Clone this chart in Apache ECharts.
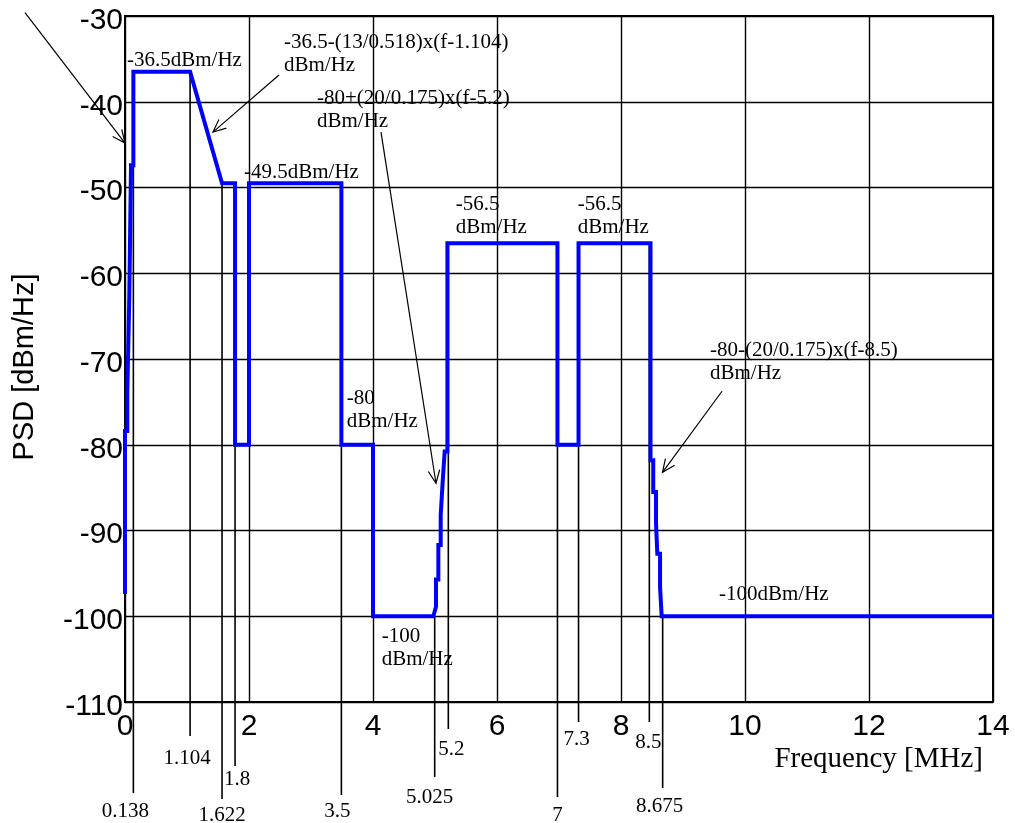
<!DOCTYPE html>
<html>
<head>
<meta charset="utf-8">
<script src="https://cdn.jsdelivr.net/npm/echarts@6/dist/echarts.min.js"></script>
<style>
html,body{margin:0;padding:0;background:#fff;}
#chart{width:1015px;height:823px;}
</style>
</head>
<body>
<div id="chart"></div>
<script>
// ---- data ----
const psdFreq = [0, 0, 0.037, 0.037, 0.069, 0.069, 0.097, 0.097, 0.135, 0.135,
  1.05, 1.565, 1.775, 1.775, 2.0, 2.0, 3.49, 3.49, 4.0, 4.0,
  4.973, 5.016, 5.016, 5.054, 5.054, 5.092, 5.092, 5.124, 5.124, 5.156,
  5.156, 5.2, 5.2, 6.975, 6.975, 7.315, 7.315, 8.476, 8.476, 8.52,
  8.52, 8.565, 8.565, 8.586, 8.586, 8.63, 8.63, 8.656, 8.656, 14];
const psdValue = [-97.4, -78.4, -78.4, -73.9, -73.9, -62.9, -62.9, -47.4, -47.4, -36.5,
  -36.5, -49.5, -49.5, -80, -80, -49.5, -49.5, -80, -80, -100,
  -100, -98.9, -95.7, -95.7, -91.7, -91.7, -88.2, -88.2, -84.3, -84.3,
  -80.8, -80.8, -56.5, -56.5, -80, -80, -56.5, -56.5, -81.8, -81.8,
  -85.5, -85.5, -89.2, -89.2, -92.7, -92.7, -96.6, -96.6, -100, -100];

const markerFreq = [0.135, 1.05, 1.565, 1.775, 3.49, 4.995, 5.215, 6.975, 7.315, 8.457, 8.672];
const markerTop = [-36.5, -36.5, -49.5, -49.5, -49.5, -100, -56.5, -56.5, -56.5, -56.5, -100];
const markerLabels = ['0.138', '1.104', '1.622', '1.8', '3.5', '5.025', '5.2', '7', '7.3', '8.5', '8.675'];

const xTicks = {min: 0, max: 14, interval: 2};
const yTicks = {min: -110, max: -30, interval: 10};

const noteTexts = ['-36.5dBm/Hz', '-36.5-(13/0.518)x(f-1.104)\ndBm/Hz', '-80+(20/0.175)x(f-5.2)\ndBm/Hz',
  '-49.5dBm/Hz', '-56.5\ndBm/Hz', '-56.5\ndBm/Hz', '-80\ndBm/Hz', '-100\ndBm/Hz',
  '-80-(20/0.175)x(f-8.5)\ndBm/Hz', '-100dBm/Hz'];
const noteFreq = [0.032, 2.565, 3.097, 1.919, 5.334, 7.302, 3.576, 4.140, 9.435, 9.581];
const notePsd = [-33.79, -31.75, -38.23, -46.86, -50.65, -50.65, -73.29, -101.0, -67.63, -96.10];

const arrowFrom = [[-1.613, -29.61], [2.484, -36.88], [4.129, -43.54], [9.629, -73.76]];
const arrowTo = [[0, -44.82], [1.419, -43.54], [5.016, -84.49], [8.669, -83.21]];

// ---- layout (pixels) ----
const markerDrop = [91, 34, 97, 64, 93, 75, 27, 95, 20, 20, 86];
const markerLabelDy = [109, 56, 113, 77, 109, 95, 47, 113, 37, 40, 104];
const markerLabelDx = [-8, -3, 0, 2, -4, -5, 3, 0, -2, -1, -3];

const SERIF = '"Liberation Serif", "Times New Roman", serif';
const SANS = '"Liberation Sans", Arial, sans-serif';

const chart = echarts.init(document.getElementById('chart'));

const option = {
  animation: false,
  backgroundColor: '#fff',
  grid: {left: 125, top: 16, right: 22, bottom: 121, show: true, borderColor: '#000', borderWidth: 2, backgroundColor: 'transparent'},
  xAxis: {
    type: 'value', min: xTicks.min, max: xTicks.max, interval: xTicks.interval,
    axisLine: {show: true, lineStyle: {color: '#000', width: 2}},
    axisTick: {show: false},
    splitLine: {show: true, lineStyle: {color: '#000', width: 1.4}},
    axisLabel: {color: '#000', fontSize: 30, fontFamily: SANS, margin: 10}
  },
  yAxis: {
    type: 'value', min: yTicks.min, max: yTicks.max, interval: yTicks.interval,
    axisLine: {show: true, lineStyle: {color: '#000', width: 2}},
    axisTick: {show: false},
    splitLine: {show: true, lineStyle: {color: '#000', width: 1.4}},
    axisLabel: {color: '#000', fontSize: 30, fontFamily: SANS, margin: 2, verticalAlign: 'top', lineHeight: 9}
  },
  graphic: [
    {type: 'text', x: 983, y: 759, style: {text: 'Frequency [MHz]', fill: '#000', fontSize: 29, fontFamily: SERIF, align: 'right', verticalAlign: 'middle'}},
    {type: 'text', x: 25, y: 367, rotation: Math.PI / 2, style: {text: 'PSD [dBm/Hz]', fill: '#000', fontSize: 29, fontFamily: SANS, align: 'center', verticalAlign: 'middle'}}
  ],
  series: [
    {
      type: 'custom', z: 3, clip: false, silent: true,
      data: markerFreq.map((f, i) => [f, markerTop[i], i]),
      renderItem: function (params, api) {
        const i = api.value(2);
        const top = api.coord([api.value(0), api.value(1)]);
        const bot = api.coord([api.value(0), yTicks.min]);
        return {
          type: 'group',
          children: [
            {type: 'line', shape: {x1: top[0], y1: top[1], x2: bot[0], y2: bot[1] + markerDrop[i]}, style: {stroke: '#000', lineWidth: 1.6}},
            {type: 'text', x: bot[0] + markerLabelDx[i], y: bot[1] + markerLabelDy[i],
              style: {text: markerLabels[i], fill: '#000', fontSize: 21, fontFamily: SERIF, align: 'center', verticalAlign: 'middle'}}
          ]
        };
      }
    },
    {
      type: 'line', z: 5, silent: true, showSymbol: false, symbol: 'none',
      data: psdFreq.map((f, i) => [f, psdValue[i]]),
      lineStyle: {color: '#0000ff', width: 4, join: 'miter'}
    },
    {
      type: 'custom', z: 6, clip: false, silent: true,
      data: arrowFrom.map((p, i) => [p[0], p[1], arrowTo[i][0], arrowTo[i][1]]),
      encode: {x: [0, 2], y: [1, 3]},
      renderItem: function (params, api) {
        const a = api.coord([api.value(0), api.value(1)]);
        const b = api.coord([api.value(2), api.value(3)]);
        const ang = Math.atan2(a[1] - b[1], a[0] - b[0]);
        const L = 14, h = 0.42;
        const h1 = [b[0] + L * Math.cos(ang + h), b[1] + L * Math.sin(ang + h)];
        const h2 = [b[0] + L * Math.cos(ang - h), b[1] + L * Math.sin(ang - h)];
        return {
          type: 'group',
          children: [
            {type: 'line', shape: {x1: a[0], y1: a[1], x2: b[0], y2: b[1]}, style: {stroke: '#000', lineWidth: 1.2}},
            {type: 'polyline', shape: {points: [h1, b, h2]}, style: {stroke: '#000', lineWidth: 1.2, fill: null}}
          ]
        };
      }
    },
    {
      type: 'custom', z: 7, clip: false, silent: true,
      data: noteFreq.map((f, i) => [f, notePsd[i], i]),
      renderItem: function (params, api) {
        const i = api.value(2);
        const p = api.coord([api.value(0), api.value(1)]);
        return {
          type: 'text', x: p[0], y: p[1],
          style: {text: noteTexts[i], fill: '#000', fontSize: 21, fontFamily: SERIF, align: 'left', verticalAlign: 'top', lineHeight: 23}
        };
      }
    }
  ]
};
chart.setOption(option);
</script>
</body>
</html>
